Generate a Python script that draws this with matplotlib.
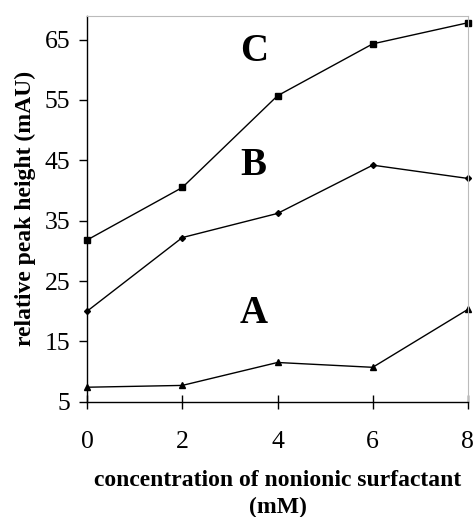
import matplotlib.pyplot as plt
import numpy as np

# surfactant concentration (mM) and peak heights (mAU)
conc = [0, 2, 4, 6, 8]
peak_a = [7.4, 7.7, 11.5, 10.7, 20.3]
peak_b = [20.0, 32.2, 36.2, 44.2, 42.0]
peak_c = [31.8, 40.5, 55.7, 64.3, 67.8]

x_ticks = [0, 2, 4, 6, 8]
y_ticks = [5, 15, 25, 35, 45, 55, 65]

plt.rcParams['font.family'] = ['Liberation Serif', 'DejaVu Serif']

fig = plt.figure(figsize=(4.76, 5.17), dpi=100)
ax = fig.add_axes([0.183, 0.223, 0.800, 0.747])

ax.plot(conc, peak_c, color='black', lw=1.0, marker='s', ms=4, clip_on=False)
ax.plot(conc, peak_b, color='black', lw=1.0, marker='D', ms=3, clip_on=False)
ax.plot(conc, peak_a, color='black', lw=1.0, marker='^', ms=4, clip_on=False)

ax.text(3.5, 63.1, 'C', fontsize=28, fontweight='bold', ha='center', va='center')
ax.text(3.5, 44.2, 'B', fontsize=28, fontweight='bold', ha='center', va='center')
ax.text(3.5, 19.6, 'A', fontsize=28, fontweight='bold', ha='center', va='center')

ax.set_xlim(0, 8)
ax.set_ylim(5, 69)
ax.set_xticks(x_ticks)
ax.set_yticks(y_ticks)
ax.tick_params(axis='both', labelsize=18.5, width=1, color='black')
ax.tick_params(axis='x', direction='inout', length=10, pad=16)
ax.tick_params(axis='y', direction='out', length=6, pad=6)

for side in ['top', 'right']:
    ax.spines[side].set_color('#bbbbbb')
    ax.spines[side].set_linewidth(0.8)
for side in ['left', 'bottom']:
    ax.spines[side].set_color('black')
    ax.spines[side].set_linewidth(1.0)

ax.set_ylabel('relative peak height (mAU)', fontsize=17, fontweight='bold', labelpad=6)
ax.set_xlabel('concentration of nonionic surfactant\n(mM)', fontsize=17,
              fontweight='bold', labelpad=12, linespacing=1.4)

fig.savefig('out.png', dpi=100)
